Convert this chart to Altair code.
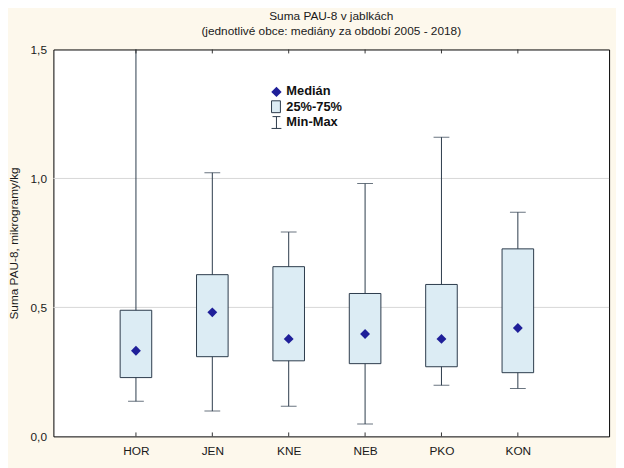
import altair as alt
import pandas as pd

# ---- data ----
categories = ["HOR", "JEN", "KNE", "NEB", "PKO", "KON"]
mins = [0.136, 0.098, 0.117, 0.048, 0.198, 0.186]
q1 = [0.228, 0.309, 0.293, 0.282, 0.270, 0.247]
medians = [0.332, 0.481, 0.378, 0.397, 0.378, 0.420]
q3 = [0.489, 0.627, 0.658, 0.554, 0.589, 0.727]
maxs = [1.65, 1.022, 0.792, 0.980, 1.160, 0.869]
y_ticks = [0.0, 0.5, 1.0, 1.5]
grid_values = [0.5, 1.0]

df = pd.DataFrame({
    "idx": list(range(1, len(categories) + 1)),
    "cat": categories,
    "min": mins, "q1": q1, "med": medians, "q3": q3, "max": maxs,
})
grid_df = pd.DataFrame({"g": grid_values})

W, H = 563, 392
FONT = "Liberation Sans"
BOX_FILL = "#dcecf4"
DARK = "#2b3a4a"
NAVY = "#1f1f99"

label_arr = "[" + ",".join(["''"] + [f"'{c}'" for c in categories]) + "]"

xenc = alt.X(
    "idx:Q",
    scale=alt.Scale(domain=[-0.016, 7.13], nice=False, zero=False),
    axis=alt.Axis(
        values=list(range(1, len(categories) + 1)),
        labelExpr=f"{label_arr}[datum.value]",
        title=None, ticks=False, domain=False, grid=False,
        labelPadding=9, labelFontSize=12, labelFont=FONT, labelColor="#1a1a1a",
    ),
)
yscale = alt.Scale(domain=[0, 1.5], nice=False, zero=True)
yaxis = alt.Axis(
    values=y_ticks,
    labelExpr="replace(format(datum.value, '.1f'), '.', ',')",
    title="Suma PAU-8, mikrogramy/kg",
    titleFont=FONT, titleFontSize=12, titleFontWeight="normal", titleColor="#1a1a1a",
    titleAngle=270, titleX=-40, titleY=H / 2, titleAlign="center", titleBaseline="middle",
    ticks=False, domain=False, grid=False,
    labelPadding=7, labelFontSize=12, labelFont=FONT, labelColor="#1a1a1a",
)

base = alt.Chart(df)

grid = alt.Chart(grid_df).mark_rule(color="#d6d6d6", strokeWidth=1).encode(
    y=alt.Y("g:Q", scale=yscale, axis=yaxis),
)

whisker = base.mark_rule(color=DARK, strokeWidth=1, clip=True).encode(
    x=xenc,
    y=alt.Y("min:Q", scale=yscale, axis=yaxis),
    y2="max:Q",
)
caps_min = base.mark_tick(orient="horizontal", size=16, thickness=1, color=DARK, clip=True).encode(
    x=xenc, y=alt.Y("min:Q", scale=yscale, axis=yaxis),
)
caps_max = base.mark_tick(orient="horizontal", size=16, thickness=1, color=DARK, clip=True).encode(
    x=xenc, y=alt.Y("max:Q", scale=yscale, axis=yaxis),
)
boxes = base.mark_bar(size=32, fill=BOX_FILL, stroke=DARK, strokeWidth=1).encode(
    x=xenc,
    y=alt.Y("q1:Q", scale=yscale, axis=yaxis),
    y2="q3:Q",
)
med = base.mark_point(shape="diamond", filled=True, size=100, color=NAVY, opacity=1).encode(
    x=xenc, y=alt.Y("med:Q", scale=yscale, axis=yaxis),
)

# inward tick marks at category positions (bottom and top)
ticks_bottom = base.mark_rule(color="#333333", strokeWidth=1).encode(
    x=xenc, y=alt.value(H), y2=alt.value(H - 4),
)
ticks_top = base.mark_rule(color="#333333", strokeWidth=1).encode(
    x=xenc, y=alt.value(0), y2=alt.value(4),
)

# ---- legend inside plot ----
one = alt.Data(values=[{"a": 1}])
leg_diamond = alt.Chart(one).mark_point(shape="diamond", filled=True, size=110, color=NAVY, opacity=1).encode(
    x=alt.value(226), y=alt.value(43))
leg_rect = alt.Chart(one).mark_rect(fill=BOX_FILL, stroke=DARK, strokeWidth=1).encode(
    x=alt.value(221), x2=alt.value(230), y=alt.value(52), y2=alt.value(64))
leg_line = alt.Chart(one).mark_rule(color=DARK).encode(
    x=alt.value(226), y=alt.value(68), y2=alt.value(80))
leg_cap_top = alt.Chart(one).mark_rule(color=DARK).encode(
    x=alt.value(222), x2=alt.value(230), y=alt.value(68))
leg_cap_bot = alt.Chart(one).mark_rule(color=DARK).encode(
    x=alt.value(221), x2=alt.value(231), y=alt.value(80))

def leg_text(t, y):
    return alt.Chart(one).mark_text(
        text=t, align="left", baseline="middle", font=FONT, fontSize=13,
        fontWeight="bold", color="#111111",
    ).encode(x=alt.value(236), y=alt.value(y))

chart = alt.layer(
    grid, whisker, caps_min, caps_max, boxes, med, ticks_bottom, ticks_top,
    leg_diamond, leg_rect, leg_line, leg_cap_top, leg_cap_bot,
    leg_text("Medián", 42), leg_text("25%-75%", 58), leg_text("Min-Max", 74),
).properties(
    width=W, height=H,
    autosize=alt.AutoSizeParams(type="none"),
    padding={"left": 46, "top": 39, "right": 7, "bottom": 29},
    background="#fdf8ec",
    title=alt.TitleParams(
        text="Suma PAU-8 v jablkách",
        subtitle="(jednotlivé obce: mediány za období 2005 - 2018)",
        font=FONT, fontSize=12, fontWeight="normal", color="#1a1a1a",
        subtitleFont=FONT, subtitleFontSize=12, subtitleColor="#1a1a1a",
        anchor="middle", offset=6, subtitlePadding=3,
    ),
).configure_view(
    fill="white", stroke="#000000", strokeWidth=1,
)

chart.save("out.html", embed_options={"renderer": "svg", "actions": False})
